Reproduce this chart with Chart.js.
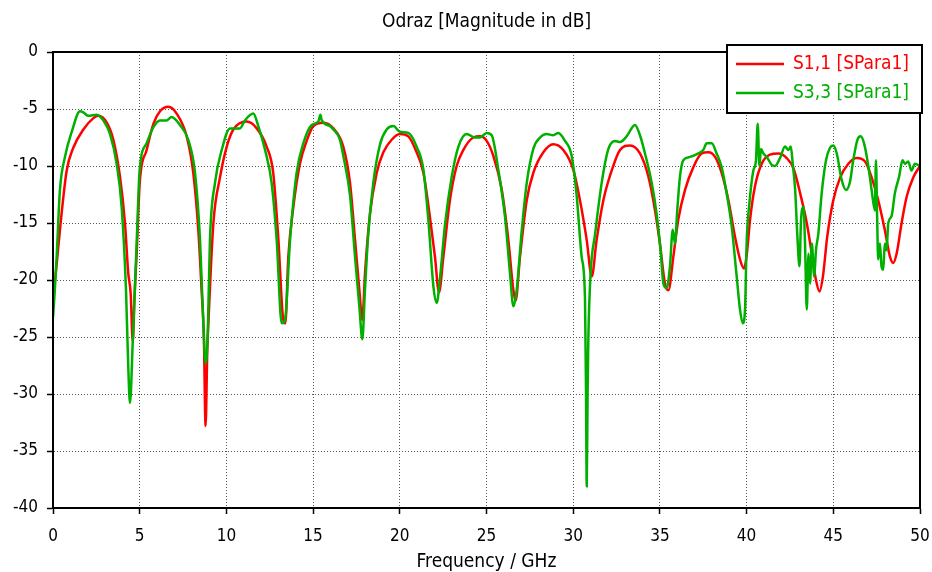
<!DOCTYPE html>
<html>
<head>
<meta charset="utf-8">
<title>Odraz</title>
<script src="https://cdn.jsdelivr.net/npm/chart.js@4.4.1/dist/chart.umd.min.js"></script>
<style>
  html, body { margin: 0; padding: 0; background: #fff; }
  #wrap { width: 932px; height: 572px; }
</style>
</head>
<body>
<div id="wrap"><canvas id="chart" width="932" height="572"></canvas></div>
<script>
const FONT = "'DejaVu Sans Condensed', 'DejaVu Sans', sans-serif";

const chartTitle = 'Odraz [Magnitude in dB]';
const xTitle = 'Frequency / GHz';
const seriesNames = ['S1,1 [SPara1]', 'S3,3 [SPara1]'];
const seriesColors = ['#ff0000', '#00b000'];

// axis ranges (GHz / dB)
const xRange = [0, 50];
const yRange = [-40, 0];
const tickStep = 5;

// S1,1
const s11Freq = [0, 0.2, 0.4, 0.79, 1.17, 1.75, 2.33, 2.61, 3.1, 3.48, 3.86, 4.15, 4.34, 4.48, 4.6, 4.7, 4.83, 5.0,
  5.4, 5.79, 6.17, 6.65, 7.13, 7.71, 8.09, 8.38, 8.57, 8.7, 8.8, 8.9, 8.96, 9.25, 9.63, 10.02, 10.4, 11.17, 11.75,
  12.32, 12.7, 13.0, 13.28, 13.4, 13.57, 13.86, 14.24, 14.63, 15.01, 15.59, 16.17, 16.74, 17.13, 17.42, 17.67,
  17.84, 17.99, 18.28, 18.67, 19.05, 19.53, 20.01, 20.49, 20.97, 21.36, 21.74, 22.03, 22.26, 22.51, 22.89, 23.28,
  23.66, 24.24, 24.63, 25.01, 25.39, 25.87, 26.26, 26.55, 26.68, 26.93, 27.32, 27.7, 28.28, 28.85, 29.43, 30.0,
  30.39, 30.78, 31.07, 31.35, 31.74, 32.31, 32.7, 33.28, 33.85, 34.33, 34.72, 35.0, 35.29, 35.49, 35.78, 36.06,
  36.45, 36.93, 37.41, 37.8, 38.18, 38.56, 38.95, 39.33, 39.62, 39.85, 40.0, 40.2, 40.48, 40.87, 41.35, 41.83,
  42.31, 42.7, 43.09, 43.47, 43.76, 44.0, 44.2, 44.4, 44.65, 45.0, 45.4, 45.87, 46.35, 46.83, 47.21, 47.59, 47.97,
  48.26, 48.45, 48.65, 48.94, 49.23, 49.61, 50];
const s11Mag = [-21.5, -18.8, -15.6, -10.4, -8.4, -6.8, -5.8, -5.6, -6.2, -7.7, -10.9, -15, -19.4, -21.2, -25.4, -21.5, -17.5, -11.5,
  -8.6, -6.3, -5.2, -4.8, -5.4, -7.4, -10.6, -15.6, -20.9, -25, -32.8, -26, -23.8, -15, -11, -8.3, -6.8, -6.1, -6.7,
  -8.3, -10.6, -16.5, -23.5, -23.8, -18, -13.6, -9.8, -7.8, -6.5, -6.2, -6.7, -8.3, -11.5, -16.5, -20.9,
  -23.5, -19.5, -14.2, -10.6, -8.8, -7.7, -7.2, -7.4, -8.8, -10.6, -14.5, -18, -21.1, -18, -13, -10,
  -8.6, -7.5, -7.4, -7.8, -9.1, -12, -16.5, -20.9, -21.8, -18, -13, -10.6, -8.8, -8.1, -8.6, -10.3,
  -13, -16.5, -19.7, -16.5, -13, -10, -8.6, -8.2, -8.9, -10.9, -13.9, -16.8, -20.3, -20.9, -17.9, -14.7,
  -12.1, -10.1, -8.9, -8.8, -9.2, -10.6, -13, -16.2, -18.2, -19.0, -17.9, -14.7, -11.8, -9.8, -9.0, -8.9,
  -9.3, -10.2, -12.4, -15.0, -17.7, -20, -21, -19.7, -16.2, -13, -11.0, -9.8, -9.3, -9.6, -11.0, -13, -15.6,
  -17.9, -18.5, -17.7, -15, -12.7, -11, -10];

// S3,3
const s33Freq = [0, 0.1, 0.21, 0.4, 0.69, 1.08, 1.56, 1.75, 2.04, 2.52, 2.9, 3.29, 3.67, 3.96, 4.21, 4.34, 4.44, 4.6,
  4.83, 5.0, 5.4, 5.79, 6.17, 6.56, 6.84, 7.32, 7.8, 8.19, 8.48, 8.67, 8.8, 8.92, 9.05, 9.34, 9.73, 10.21, 10.78,
  11.07, 11.55, 11.84, 12.23, 12.61, 12.9, 13.19, 13.38, 13.67, 14.05, 14.44, 14.92, 15.3, 15.42, 15.5, 15.98,
  16.17, 16.55, 16.74, 17.13, 17.42, 17.67, 17.84, 17.99, 18.18, 18.47, 18.86, 19.24, 19.63, 20.01, 20.49, 20.97,
  21.36, 21.65, 21.94, 22.13, 22.32, 22.61, 23.0, 23.38, 23.86, 24.34, 24.63, 25.01, 25.3, 25.68, 26.07, 26.36,
  26.55, 26.74, 27.03, 27.32, 27.7, 28.09, 28.47, 28.85, 29.14, 29.53, 29.91, 30.2, 30.49, 30.68, 30.74, 30.78,
  30.83, 30.87, 31.0, 31.26, 31.64, 32.03, 32.41, 32.7, 33.08, 33.56, 33.85, 34.14, 34.53, 34.81, 35.04, 35.2,
  35.39, 35.58, 35.74, 35.87, 36.0, 36.16, 36.35, 36.74, 37.22, 37.5, 37.7, 37.99, 38.27, 38.56, 38.85, 39.14,
  39.43, 39.62, 39.78, 39.91, 40.0, 40.16, 40.39, 40.54, 40.64, 40.74, 40.83, 40.97, 41.16, 41.45, 41.64, 41.93,
  42.22, 42.41, 42.55, 42.66, 42.8, 42.93, 43.05, 43.14, 43.28, 43.37, 43.47, 43.57, 43.66, 43.76, 43.9, 44.0,
  44.14, 44.33, 44.58, 44.81, 45.0, 45.2, 45.48, 45.73, 45.96, 46.15, 46.39, 46.58, 46.77, 47.02, 47.21, 47.4,
  47.46, 47.53, 47.59, 47.69, 47.78, 47.88, 47.97, 48.07, 48.17, 48.36, 48.55, 48.8, 48.99, 49.13, 49.32, 49.51,
  49.71, 50];
const s33Mag = [-23.3, -21, -18, -12.1, -9.2, -7.0, -5.2, -5.3, -5.6, -5.5, -6.0, -7.2, -9.8, -13.6, -20.9, -27.6, -30.8, -25.4,
  -16.5, -10.3, -8, -6.6, -6.0, -6.0, -5.7, -6.4, -7.7, -10.6, -16.5, -23.8, -27.3, -25, -16.5, -11.5, -8.6, -6.7, -6.7,
  -6, -5.4, -6.5, -8.6, -11.5, -16.5, -23.8, -23.5, -16.5, -10.6, -8, -6.4, -6.1, -5.5, -6.0, -6.5,
  -6.8, -7.7, -9.1, -12.6, -18, -22.4, -25.2, -20.9, -16, -11.5, -8.1, -6.8, -6.5, -7.0, -7.1, -8.3,
  -10.3, -14.8, -20.6, -22, -19.8, -15.1, -10.9, -8.3, -7.2, -7.5, -7.5, -7.1, -7.3, -10.3, -14.5, -19.5,
  -22.3, -20.9, -15.7, -11.5, -8.5, -7.5, -7.2, -7.3, -7.1, -7.8, -9.1, -12.6, -18, -21.6, -30, -38.1,
  -30, -25.4, -19.5, -16, -11.5, -8.5, -7.8, -7.9, -7.4, -6.4, -7.3, -8.9, -11.5, -14.2, -17.4, -20.3,
  -20.7, -18.8, -15.6, -16.8, -13.9, -10.9, -9.5, -9.2, -8.9, -8.6, -8.0, -8.0, -8.9, -10.1, -12.4, -15.3,
  -19.7, -22.6, -23.8, -22.6, -16.8, -13.3, -10.4, -9.5, -6.3, -10, -8.5, -8.9, -9.2, -9.9, -10.0, -9.3,
  -8.3, -8.6, -8.3, -9.8, -12.1, -16.2, -18.8, -14.7, -13.6, -16.8, -22.6, -17.7, -20.3, -16.8, -19.7, -17.4,
  -15.9, -12.4, -9.5, -8.4, -8.2, -8.9, -11.2, -12.1, -11.4, -9.5, -7.7, -7.4, -8.0, -10, -12.1, -13.9,
  -9.5, -14.7, -18.2, -16.8, -18.8, -19.1, -16.8, -17.4, -15.0, -14.4, -12.4, -10.9, -9.5, -9.8, -9.6, -10.4,
  -9.8, -10];

const toPoints = (xs, ys) => xs.map((x, i) => ({ x, y: ys[i] }));

// plot frame, titles and the boxed legend drawn over the plot
const decorations = {
  id: 'decorations',
  afterDraw(chart) {
    const { ctx, chartArea: a } = chart;
    ctx.save();
    ctx.strokeStyle = '#000';
    ctx.lineWidth = 2;
    ctx.strokeRect(a.left, a.top, a.right - a.left, a.bottom - a.top);

    ctx.fillStyle = '#000';
    ctx.font = `19px ${FONT}`;
    ctx.textAlign = 'center';
    ctx.textBaseline = 'middle';
    const cx = (a.left + a.right) / 2;
    ctx.fillText(chartTitle, cx, 22);
    ctx.fillText(xTitle, cx, 562);

    // legend
    const bw = 195, bh = 68;
    const bx = a.right + 2 - bw, by = 45;
    ctx.fillStyle = '#fff';
    ctx.fillRect(bx, by, bw, bh);
    ctx.strokeRect(bx, by, bw, bh);
    ctx.textAlign = 'left';
    ctx.font = `19px ${FONT}`;
    chart.data.datasets.forEach((ds, i) => {
      const ly = by + 19 + i * 29;
      ctx.strokeStyle = ds.borderColor;
      ctx.lineWidth = 2.5;
      ctx.beginPath();
      ctx.moveTo(bx + 9, ly);
      ctx.lineTo(bx + 57, ly);
      ctx.stroke();
      ctx.fillStyle = ds.borderColor;
      ctx.fillText(ds.label, bx + 66, ly);
    });
    ctx.restore();
  }
};

const gridOpts = {
  color: '#555',
  lineWidth: 1,
  tickColor: '#000',
  tickLength: 6,
  tickWidth: 1.5
};

new Chart(document.getElementById('chart'), {
  type: 'line',
  data: {
    datasets: [
      {
        label: seriesNames[0],
        data: toPoints(s11Freq, s11Mag),
        borderColor: seriesColors[0],
        order: 1
      },
      {
        label: seriesNames[1],
        data: toPoints(s33Freq, s33Mag),
        borderColor: seriesColors[1],
        order: 0
      }
    ]
  },
  options: {
    responsive: false,
    animation: false,
    devicePixelRatio: 1,
    layout: { padding: { left: 0, top: 52, right: 12, bottom: 0 } },
    elements: {
      line: { borderWidth: 2.5, cubicInterpolationMode: 'monotone', fill: false },
      point: { radius: 0 }
    },
    plugins: {
      legend: { display: false },
      title: { display: false },
      tooltip: { enabled: false }
    },
    scales: {
      x: {
        type: 'linear',
        min: xRange[0],
        max: xRange[1],
        afterFit: s => { s.height = 64; s.paddingLeft = 0; s.paddingRight = 0; },
        ticks: { stepSize: tickStep, color: '#000', padding: 12, font: { family: FONT, size: 17 } },
        grid: gridOpts,
        border: { display: true, color: '#000', width: 2, dash: [1, 2] }
      },
      y: {
        type: 'linear',
        min: yRange[0],
        max: yRange[1],
        afterFit: s => { s.width = 53; },
        ticks: { stepSize: tickStep, color: '#000', padding: 9, font: { family: FONT, size: 17 } },
        grid: gridOpts,
        border: { display: true, color: '#000', width: 2, dash: [1, 2] }
      }
    }
  },
  plugins: [decorations]
});
</script>
</body>
</html>
